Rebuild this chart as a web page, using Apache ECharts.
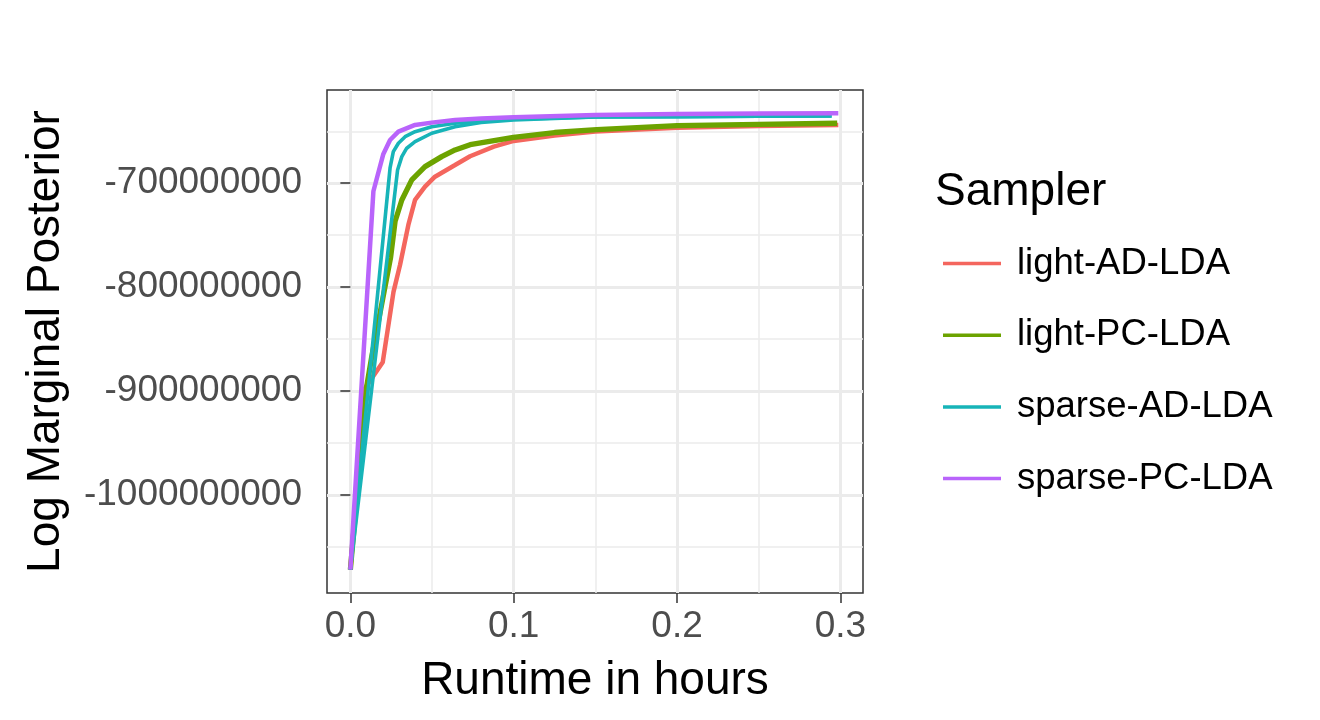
<!DOCTYPE html>
<html>
<head>
<meta charset="utf-8">
<title>Log Marginal Posterior vs runtime</title>
<script src="https://cdn.jsdelivr.net/npm/echarts@6.0.0/dist/echarts.min.js"></script>
<style>
  html, body { margin: 0; padding: 0; background: #fff; }
  #chart { width: 1320px; height: 720px; }
</style>
</head>
<body>
<div id="chart"></div>
<script>
// samplers, in drawing order (last one on top)
const samplers = ['light-AD-LDA', 'light-PC-LDA', 'sparse-AD-LDA', 'sparse-PC-LDA'];
const samplerColors = ['#F4665E', '#6CA300', '#17B4B8', '#B964FB'];

// runtime in hours / log marginal posterior
const lightAdTime = [0, 0.0090, 0.0198, 0.0264, 0.0304, 0.0355, 0.0396, 0.0457, 0.0518, 0.0641, 0.0733, 0.0878, 0.1, 0.125, 0.15, 0.2, 0.25, 0.2987];
const lightAdLmp = [-1071800000, -897100000, -872300000, -804500000, -778600000, -740100000, -716000000, -703300000, -693700000, -682500000, -674000000, -664800000, -659300000, -654000000, -650200000, -646500000, -644900000, -643900000];

const lightPcTime = [0, 0.0100, 0.0131, 0.0246, 0.0274, 0.0315, 0.0376, 0.0457, 0.0559, 0.0641, 0.0733, 0.0998, 0.125, 0.1508, 0.2, 0.25, 0.298];
const lightPcLmp = [-1071800000, -895600000, -866700000, -771800000, -736500000, -716100000, -696800000, -684000000, -674400000, -668000000, -662900000, -655800000, -651200000, -648500000, -644600000, -643300000, -642300000];

// sparse-AD-LDA shows two runs
const sparseAdTime1 = [0, 0.0243, 0.0263, 0.0294, 0.0335, 0.0396, 0.0498, 0.0641, 0.08, 0.1, 0.15, 0.2, 0.25, 0.2946];
const sparseAdLmp1 = [-1071800000, -685300000, -669600000, -661500000, -655200000, -650400000, -645600000, -642300000, -640000000, -638500000, -636300000, -636000000, -635600000, -635300000];
const sparseAdTime2 = [0, 0.0289, 0.0315, 0.0345, 0.0396, 0.0498, 0.0641, 0.08, 0.1, 0.15, 0.2, 0.25, 0.2946];
const sparseAdLmp2 = [-1071800000, -687200000, -674400000, -666300000, -660000000, -651900000, -645600000, -641500000, -639000000, -636300000, -636000000, -635600000, -635300000];

const sparsePcTime = [0, 0.0141, 0.0202, 0.0243, 0.0294, 0.0396, 0.0498, 0.0641, 0.08, 0.1, 0.15, 0.2, 0.25, 0.2987];
const sparsePcLmp = [-1071800000, -707700000, -671800000, -658400000, -650400000, -643900000, -641700000, -639100000, -637800000, -636500000, -634300000, -633400000, -633000000, -632700000];

const xTicks = [0, 0.1, 0.2, 0.3];
const yTicks = [-1000000000, -900000000, -800000000, -700000000];

const FONT = 'Liberation Sans, Arial, Helvetica, sans-serif';

function pairs(xs, ys) {
  return xs.map((x, i) => [x, ys[i]]);
}

function lineSeries(idx, xs, ys, width) {
  return {
    name: samplers[idx],
    type: 'line',
    data: pairs(xs, ys),
    symbol: 'none',
    showSymbol: false,
    smooth: false,
    color: samplerColors[idx],
    lineStyle: { width: width, color: samplerColors[idx] },
    emphasis: { disabled: true }
  };
}

const chart = echarts.init(document.getElementById('chart'));
chart.setOption({
  animation: false,
  backgroundColor: '#fff',
  textStyle: { fontFamily: FONT },
  title: {
    text: 'Sampler',
    left: 935,
    top: 169,
    padding: 0,
    textStyle: { fontSize: 46, fontWeight: 'normal', color: '#000', fontFamily: FONT }
  },
  legend: {
    data: samplers,
    orient: 'vertical',
    left: 943,
    top: 245,
    padding: 0,
    // plain line key, no marker
    icon: 'path://M0,0H58V3.5H0Z',
    itemWidth: 58,
    itemHeight: 35,
    itemGap: 34.7,
    textStyle: { fontSize: 36.5, color: '#000', fontFamily: FONT, padding: [0, 0, 0, 11] }
  },
  grid: {
    left: 327,
    right: 457,
    top: 90,
    bottom: 127,
    show: true,
    backgroundColor: '#fff',
    borderColor: '#333',
    borderWidth: 1.5
  },
  xAxis: {
    type: 'value',
    min: -0.0143,
    max: 0.3138,
    splitNumber: 3,
    name: 'Runtime in hours',
    nameLocation: 'middle',
    nameGap: 65,
    nameTextStyle: { fontSize: 46, color: '#000', fontFamily: FONT },
    axisLine: { show: false },
    axisTick: { show: true, length: 10, customValues: xTicks, lineStyle: { color: '#333', width: 1.5 } },
    axisLabel: {
      customValues: xTicks,
      formatter: v => v.toFixed(1),
      color: '#4d4d4d',
      fontSize: 37,
      margin: 15,
      fontFamily: FONT
    },
    splitLine: { show: true, lineStyle: { color: '#ebebeb', width: 3 } },
    minorTick: { show: false, splitNumber: 2 },
    minorSplitLine: { show: true, lineStyle: { color: '#ebebeb', width: 1.5 } }
  },
  yAxis: {
    type: 'value',
    min: -1094200000,
    max: -610300000,
    splitNumber: 5,
    name: 'Log Marginal Posterior',
    nameLocation: 'middle',
    nameRotate: 90,
    nameGap: 258,
    nameTextStyle: { fontSize: 46, color: '#000', fontFamily: FONT },
    axisLine: { show: false },
    axisTick: { show: true, length: 10, customValues: yTicks, lineStyle: { color: '#333', width: 1.5 } },
    axisLabel: {
      customValues: yTicks,
      formatter: v => String(Math.round(v)),
      color: '#4d4d4d',
      fontSize: 37,
      margin: 25,
      fontFamily: FONT
    },
    splitLine: { show: true, lineStyle: { color: '#ebebeb', width: 3 } },
    minorTick: { show: false, splitNumber: 2 },
    minorSplitLine: { show: true, lineStyle: { color: '#ebebeb', width: 1.5 } }
  },
  series: [
    lineSeries(0, lightAdTime, lightAdLmp, 4.5),
    lineSeries(1, lightPcTime, lightPcLmp, 5.3),
    lineSeries(2, sparseAdTime1, sparseAdLmp1, 3.6),
    lineSeries(2, sparseAdTime2, sparseAdLmp2, 3.6),
    lineSeries(3, sparsePcTime, sparsePcLmp, 4.5)
  ]
});
</script>
</body>
</html>
